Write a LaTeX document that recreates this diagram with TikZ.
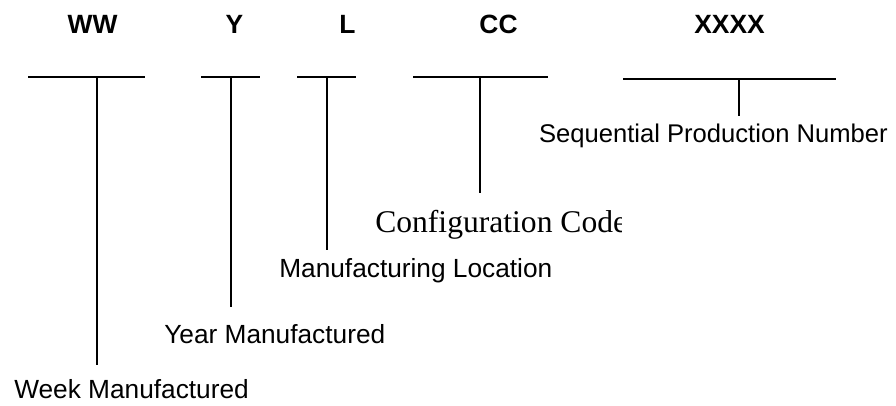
\documentclass[tikz,border=0pt]{standalone}
\usepackage{fontspec}
\setmainfont{Liberation Sans}
\newfontfamily\timesfont{Liberation Serif}
\begin{document}
\begin{tikzpicture}[x=0.75pt,y=-0.75pt,
  lbl/.style={inner sep=0pt, anchor=base west, font=\fontsize{19.7}{22}\selectfont},
  hdr/.style={inner sep=0pt, anchor=base, font=\fontsize{19.8}{22}\selectfont\bfseries},
  bar/.style={line width=1.2pt},
  stem/.style={line width=1.1pt}]
\useasboundingbox (0,0) rectangle (896,405);

% header codes
\node[hdr] (ww) at (92.5,33) {WW};
\node[hdr] (yy) at (234.5,33) {Y};
\node[hdr] (ll) at (347.5,33) {L};
\node[hdr] (cc) at (498.5,33) {CC};
\node[hdr] (xx) at (729.5,33) {XXXX};

% blanks
\coordinate (wwA) at (28,77);  \coordinate (wwB) at (145,77);
\coordinate (yyA) at (201,77); \coordinate (yyB) at (260,77);
\coordinate (llA) at (297,77); \coordinate (llB) at (356,77);
\coordinate (ccA) at (413,77); \coordinate (ccB) at (548,77);
\coordinate (xxA) at (623,79); \coordinate (xxB) at (836,79);
\draw[bar] (wwA) -- (wwB);
\draw[bar] (yyA) -- (yyB);
\draw[bar] (llA) -- (llB);
\draw[bar] (ccA) -- (ccB);
\draw[bar,line width=1.5pt] (xxA) -- (xxB);

% stems
\coordinate (wwT) at (97,77);  \coordinate (wwF) at (97,365);
\coordinate (yyT) at (231,77); \coordinate (yyF) at (231,307);
\coordinate (llT) at (327,77); \coordinate (llF) at (327,250);
\coordinate (ccT) at (480,77); \coordinate (ccF) at (480,193);
\coordinate (xxT) at (739,79); \coordinate (xxF) at (739,116);
\draw[stem] (wwT) -- (wwF);
\draw[stem] (yyT) -- (yyF);
\draw[stem] (llT) -- (llF);
\draw[stem] (ccT) -- (ccF);
\draw[stem] (xxT) -- (xxF);

% labels
\node[lbl, anchor=base east, font=\fontsize{19.2}{22}\selectfont] (seq) at (888,142) {Sequential Production Number};
\begin{scope}
  \clip (0,0) rectangle (621,405);
  \node[inner sep=0pt, anchor=base west, font=\timesfont\fontsize{23.7}{26}\selectfont] (cfg) at (375,232) {Configuration Code};
\end{scope}
\node[lbl] (loc) at (279,277) {Manufacturing Location};
\node[lbl] (year) at (164,343) {Year Manufactured};
\node[lbl] (week) at (14,398) {Week Manufactured};
\end{tikzpicture}
\end{document}
